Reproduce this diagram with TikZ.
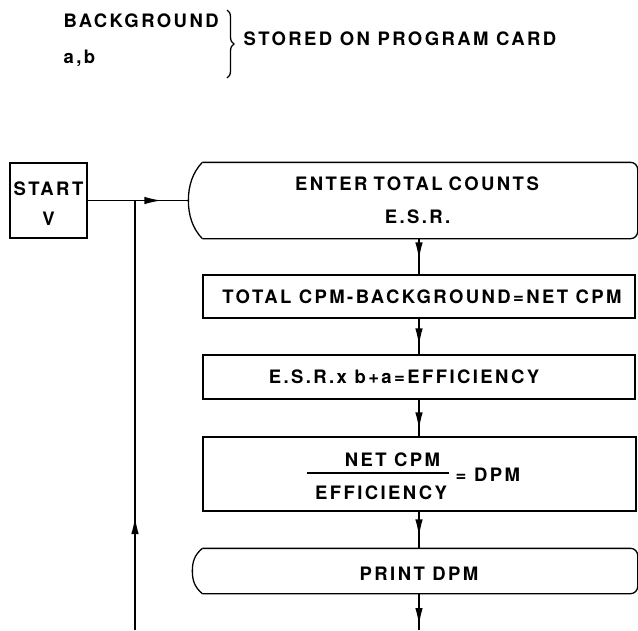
\documentclass[tikz,border=0pt]{standalone}
\usepackage{fontspec}
\setmainfont{TeX Gyre Heros}
\newfontfamily\dinfont[LetterSpace=13]{TeX Gyre Heros}
\usetikzlibrary{arrows.meta,decorations.markings,decorations.pathreplacing,calc}
\begin{document}
\begin{tikzpicture}[x=1pt,y=-1pt,line width=1.3pt,
  txt/.style={font=\dinfont\bfseries\fontsize{18.5}{21}\selectfont,inner sep=0pt,text height=13.4pt,text depth=0pt},
  box/.style={draw,rectangle,inner sep=0pt},
  ghost/.style={rectangle,inner sep=0pt},
  flowarrow/.style={postaction={decorate},decoration={markings,mark=at position #1 with {\arrow{Latex[length=17pt,width=7.5pt]}}}}]
\useasboundingbox (0,0) rectangle (638,630);

% top note
\node[txt,anchor=west] (bg) at (63,20.5) {BACKGROUND};
\node[txt,anchor=west] (ab) at (63,56.7) {a,b};
\coordinate (brT) at (227,10);
\coordinate (brB) at (227,78);
\draw[line width=1.3pt,decorate,decoration={brace,amplitude=7pt}] (brT) -- (brB);
\node[txt,anchor=west] (stored) at (243,39) {STORED ON PROGRAM CARD};

% start box
\node[box,minimum width=77pt,minimum height=75pt] (start) at (48.5,200.5) {};
\node[txt] (startT) at (48.5,189) {START};
\node[txt] (startV) at (48.5,219) {V};

% enter terminal
\node[ghost,minimum width=448pt,minimum height=75pt] (enter) at (413,200.5) {};
\draw[rounded corners=7pt] ($(enter.north west)+(14,0)$) -- (enter.north east) -- (enter.south east) -- ($(enter.south west)+(14,0)$);
\draw ($(enter.south west)+(14,0)$) .. controls ($(enter.west)+(4,28)$) and ($(enter.west)+(0,14)$) .. (enter.west)
      .. controls ($(enter.west)+(0,-14)$) and ($(enter.west)+(4,-28)$) .. ($(enter.north west)+(14,0)$);
\node[txt] (enterT1) at (417,184) {ENTER\,\,TOTAL\,\,COUNTS};
\node[txt] (enterT2) at (417.5,216.5) {E.S.R.};

% process boxes
\node[box,minimum width=432pt,minimum height=43pt] (net) at (419,296.5) {};
\node[txt] (netT) at (422,296.5) {TOTAL CPM-BACKGROUND=NET CPM};

\node[box,minimum width=432pt,minimum height=44pt] (eff) at (419,377) {};
\node[txt] (effT) at (404,377) {E.S.R.x b+a=EFFICIENCY};

\node[box,minimum width=433pt,minimum height=74pt] (dpm) at (419.5,474) {};
\node[txt] (num) at (392.5,459.5) {NET CPM};
\node[txt] (den) at (381,492.5) {EFFICIENCY};
\coordinate (fracL) at (307,473);
\coordinate (fracR) at (449,473);
\draw (fracL) -- (fracR);
\node[txt,anchor=west] (eqdpm) at (455,475) {= DPM};

% print terminal
\node[ghost,minimum width=444pt,minimum height=44pt] (print) at (415,571) {};
\draw[rounded corners=7pt] ($(print.north west)+(10,0)$) -- (print.north east) -- (print.south east) -- ($(print.south west)+(10,0)$);
\draw ($(print.south west)+(10,0)$) .. controls ($(print.west)+(2,16)$) and ($(print.west)+(0,9)$) .. (print.west)
      .. controls ($(print.west)+(0,-9)$) and ($(print.west)+(2,-16)$) .. ($(print.north west)+(10,0)$);
\node[txt] (printT) at (419,574) {PRINT DPM};

% connectors
\coordinate (jn) at (135,200.5);
\coordinate (loopB) at (135,630);
\coordinate (endB) at (419,630);
\draw[flowarrow=-27pt] (start.east) -- (enter.west);
\draw[flowarrow=113pt] (loopB) -- (jn);
\draw[flowarrow=-15pt] (net.north |- enter.south) -- (net.north);
\draw[flowarrow=-9pt] (net.south) -- (eff.north);
\draw[flowarrow=-7pt] (eff.south) -- (eff.south |- dpm.north);
\draw[flowarrow=-12pt] (eff.south |- dpm.south) -- (eff.south |- print.north);
\draw[flowarrow=-5pt] (eff.south |- print.south) -- (endB);
\end{tikzpicture}
\end{document}
